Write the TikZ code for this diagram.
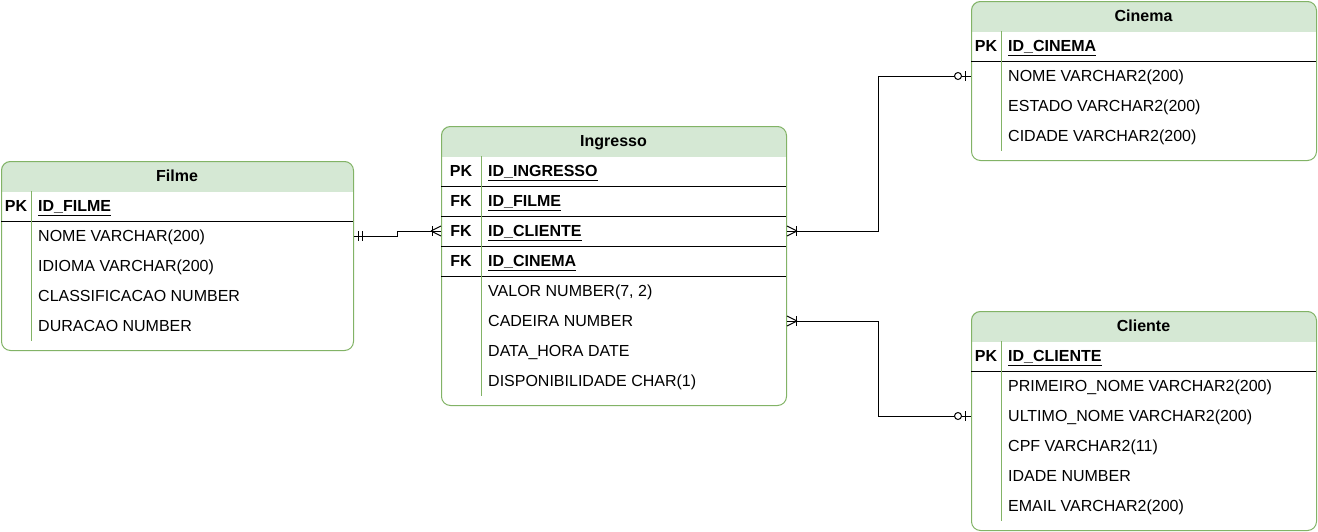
\documentclass[tikz,border=0pt]{standalone}
\usepackage{fontspec}
\setmainfont{Liberation Sans}
\definecolor{hdr}{HTML}{D5E8D4}
\definecolor{bord}{HTML}{82B366}
\begin{document}
\begin{tikzpicture}[x=1pt,y=-1pt,
  tbl/.style={draw=bord, line width=1pt, rounded corners=9pt, inner sep=0pt, anchor=north west},
  ttl/.style={font=\bfseries\fontsize{16}{19}\selectfont, text height=11.5pt, text depth=0pt, inner sep=0pt},
  keyl/.style={ttl},
  fld/.style={font=\fontsize{16}{19}\selectfont, anchor=west, inner sep=0pt, text height=11.5pt, text depth=0pt},
  pkf/.style={fld, font=\bfseries\fontsize{16}{19}\selectfont},
  rowline/.style={line width=1pt, black},
  sepl/.style={draw=bord, line width=1pt},
  conn/.style={line width=1pt, black}]
\useasboundingbox (0,0) rectangle (1318,531);

% ---------- header fills ----------
\begin{scope}\clip (1,161) rectangle (353,191);
  \fill[hdr, rounded corners=9pt] (1,161) rectangle (353,350);\end{scope}
\begin{scope}\clip (441,126) rectangle (786,156);
  \fill[hdr, rounded corners=9pt] (441,126) rectangle (786,405);\end{scope}
\begin{scope}\clip (971,1) rectangle (1316,31);
  \fill[hdr, rounded corners=9pt] (971,1) rectangle (1316,160);\end{scope}
\begin{scope}\clip (971,311) rectangle (1316,341);
  \fill[hdr, rounded corners=9pt] (971,311) rectangle (1316,530);\end{scope}

% ---------- Filme ----------
\node[tbl, minimum width=352pt, minimum height=189pt] (filme) at (1,161) {};
\node[ttl] (ftitle) at (177,176) {Filme};
\draw[rowline] (1,221) -- (353,221);
\draw[sepl] (31,191) -- (31,341);
\node[keyl] (fpk) at (16,206) {PK};
\node[pkf] (fid) at (38,206) {\underline{ID\_FILME}};
\node[fld] (fnome) at (38,236) {NOME VARCHAR(200)};
\node[fld] (fidioma) at (38,266) {IDIOMA VARCHAR(200)};
\node[fld] (fclass) at (38,296) {CLASSIFICACAO NUMBER};
\node[fld] (fdur) at (38,326) {DURACAO NUMBER};

% ---------- Ingresso ----------
\node[tbl, minimum width=345pt, minimum height=279pt] (ing) at (441,126) {};
\node[ttl] (ititle) at (613.5,141) {Ingresso};
\foreach \yy in {186,216,246,276} \draw[rowline] (441,\yy) -- (786,\yy);
\draw[sepl] (481,156) -- (481,396);
\node[keyl] (ipk) at (461,171) {PK};
\node[keyl] (ifkA) at (461,201) {FK};
\node[keyl] (ifkB) at (461,231) {FK};
\node[keyl] (ifkC) at (461,261) {FK};
\node[pkf] (iid) at (488,171) {\underline{ID\_INGRESSO}};
\node[pkf] (ifilme) at (488,201) {\underline{ID\_FILME}};
\node[pkf] (icli) at (488,231) {\underline{ID\_CLIENTE}};
\node[pkf] (icin) at (488,261) {\underline{ID\_CINEMA}};
\node[fld] (ival) at (488,291) {VALOR NUMBER(7, 2)};
\node[fld] (icad) at (488,321) {CADEIRA NUMBER};
\node[fld] (idata) at (488,351) {DATA\_HORA DATE};
\node[fld] (idisp) at (488,381) {DISPONIBILIDADE CHAR(1)};

% ---------- Cinema ----------
\node[tbl, minimum width=345pt, minimum height=159pt] (cin) at (971,1) {};
\node[ttl] (ctitle) at (1143.5,16) {Cinema};
\draw[rowline] (971,61) -- (1316,61);
\draw[sepl] (1001,31) -- (1001,151);
\node[keyl] (cpk) at (986,46) {PK};
\node[pkf] (cid) at (1008,46) {\underline{ID\_CINEMA}};
\node[fld] (cnome) at (1008,76) {NOME VARCHAR2(200)};
\node[fld] (cest) at (1008,106) {ESTADO VARCHAR2(200)};
\node[fld] (ccid) at (1008,136) {CIDADE VARCHAR2(200)};

% ---------- Cliente ----------
\node[tbl, minimum width=345pt, minimum height=219pt] (cli) at (971,311) {};
\node[ttl] (kltitle) at (1143.5,326) {Cliente};
\draw[rowline] (971,371) -- (1316,371);
\draw[sepl] (1001,341) -- (1001,521);
\node[keyl] (klpk) at (986,356) {PK};
\node[pkf] (klid) at (1008,356) {\underline{ID\_CLIENTE}};
\node[fld] (klpn) at (1008,386) {PRIMEIRO\_NOME VARCHAR2(200)};
\node[fld] (klun) at (1008,416) {ULTIMO\_NOME VARCHAR2(200)};
\node[fld] (klcpf) at (1008,446) {CPF VARCHAR2(11)};
\node[fld] (klid2) at (1008,476) {IDADE NUMBER};
\node[fld] (klmail) at (1008,506) {EMAIL VARCHAR2(200)};

% ---------- connectors ----------
\coordinate (m1) at (397,0);
\coordinate (m2) at (878,0);

% Filme -> Ingresso
\draw[conn] (filme.east |- fnome) -- (m1 |- fnome) -- (m1 |- icli) -- (ing.west |- icli);
\draw[conn] (filme.east |- fnome) ++(4,-5) -- ++(0,10);
\draw[conn] (filme.east |- fnome) ++(8,-5) -- ++(0,10);
\draw[conn] (ing.west |- icli) ++(-10,0) -- ++(10,-5) ++(-10,5) -- ++(10,5);
\draw[conn] (ing.west |- icli) ++(-9,-5) -- ++(0,10);

% Ingresso -> Cinema
\draw[conn] (ing.east |- icli) -- (m2 |- icli) -- (m2 |- cnome) -- (cin.west |- cnome);
\draw[conn] (ing.east |- icli) ++(10,0) -- ++(-10,-5) ++(10,5) -- ++(-10,5);
\draw[conn] (ing.east |- icli) ++(9,-5) -- ++(0,10);
\draw[conn] (cin.west |- cnome) ++(-6,-5) -- ++(0,10);
\draw[conn, fill=white] (cin.west |- cnome) ++(-13,0) circle[radius=3.5pt];

% Ingresso -> Cliente
\draw[conn] (ing.east |- icad) -- (m2 |- icad) -- (m2 |- klun) -- (cli.west |- klun);
\draw[conn] (ing.east |- icad) ++(10,0) -- ++(-10,-5) ++(10,5) -- ++(-10,5);
\draw[conn] (ing.east |- icad) ++(9,-5) -- ++(0,10);
\draw[conn] (cli.west |- klun) ++(-6,-5) -- ++(0,10);
\draw[conn, fill=white] (cli.west |- klun) ++(-13,0) circle[radius=3.5pt];
\end{tikzpicture}
\end{document}
